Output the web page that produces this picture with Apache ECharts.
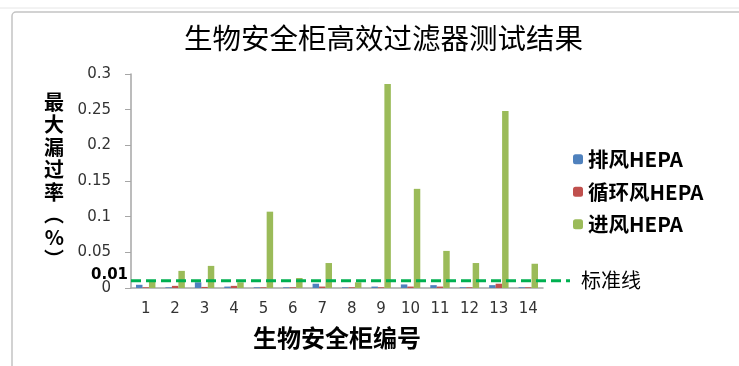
<!DOCTYPE html>
<html>
<head>
<meta charset="utf-8">
<script src="https://cdn.jsdelivr.net/npm/echarts@6/dist/echarts.min.js"></script>
<style>
  html, body { margin: 0; padding: 0; background: #fff; }
  #chart { width: 739px; height: 366px; }
</style>
</head>
<body>
<div id="chart"></div>
<script>
const cabinets = ['1', '2', '3', '4', '5', '6', '7', '8', '9', '10', '11', '12', '13', '14'];
const exhaustHepa = [0.0045, 0.001, 0.008, 0.002, 0.001, 0.001, 0.006, 0.001, 0.002, 0.005, 0.004, 0.001, 0.004, 0.001];
const recircHepa = [0.001, 0.003, 0.0015, 0.003, 0.001, 0.001, 0.002, 0.001, 0.001, 0.002, 0.002, 0.001, 0.006, 0.001];
const intakeHepa = [0.009, 0.024, 0.031, 0.008, 0.107, 0.014, 0.035, 0.008, 0.286, 0.139, 0.052, 0.035, 0.248, 0.034];
const standardLimit = 0.01;

const font = 'DejaVu Sans';
const cjk = '"Noto Sans CJK SC", sans-serif';

var dom = document.getElementById('chart');
var myChart = echarts.init(dom, null, { renderer: 'canvas' });

var option = {
  animation: false,
  backgroundColor: '#fff',
  title: {
    text: '生物安全柜高效过滤器测试结果',
    left: 179,
    top: 19,
    textStyle: { fontFamily: cjk, fontSize: 28.5, fontWeight: 'normal', color: '#000' }
  },
  graphic: [
    {
      type: 'rect',
      shape: { x: 12, y: 12, width: 740, height: 370, r: 4 },
      style: { fill: 'none', stroke: '#c4c4c4', lineWidth: 1.5 },
      z: -1
    },
    {
      type: 'line',
      shape: { x1: 0, y1: 8, x2: 739, y2: 8 },
      style: { stroke: '#e6e6e6', lineWidth: 1 },
      z: -1
    }
  ],
  legend: {
    orient: 'vertical',
    left: 568,
    top: 144,
    itemWidth: 10,
    itemHeight: 10,
    itemGap: 12,
    data: ['排风HEPA', '循环风HEPA', '进风HEPA'],
    textStyle: { fontFamily: cjk, fontSize: 20.5, fontWeight: 'bold', color: '#000', lineHeight: 20 }
  },
  grid: [
    { left: 131, right: 196, top: 74, bottom: 78 },
    { left: 131, right: 169, top: 74, bottom: 78 }
  ],
  xAxis: [
    {
      type: 'category',
      gridIndex: 0,
      data: cabinets,
      name: '生物安全柜编号',
      nameLocation: 'middle',
      nameGap: 38,
      nameTextStyle: { fontFamily: cjk, fontSize: 24, fontWeight: 'bold', color: '#000' },
      axisLine: { lineStyle: { color: '#a6a6a6', width: 1.5 } },
      axisTick: { alignWithLabel: false, length: 6, lineStyle: { color: '#a6a6a6' } },
      axisLabel: { fontFamily: font, fontSize: 15, color: '#333', margin: 14 }
    },
    {
      type: 'value',
      gridIndex: 1,
      min: 0,
      max: 1,
      show: false
    }
  ],
  yAxis: [
    {
      type: 'value',
      gridIndex: 0,
      min: 0,
      max: 0.3,
      interval: 0.05,
      name: '最\n大\n漏\n过\n率\n︵\n%\n︶',
      nameLocation: 'middle',
      nameRotate: 0,
      nameGap: 67,
      nameTextStyle: { fontFamily: cjk, fontSize: 20, fontWeight: 'bold', color: '#000', lineHeight: 22.5 },
      axisLine: { show: true, lineStyle: { color: '#a6a6a6', width: 1.5 } },
      axisTick: { show: true, length: 6, lineStyle: { color: '#a6a6a6' } },
      splitLine: { show: false },
      axisLabel: { fontFamily: font, fontSize: 15, color: '#333', margin: 20 }
    },
    {
      type: 'value',
      gridIndex: 1,
      min: 0,
      max: 0.3,
      show: false
    }
  ],
  series: [
    {
      name: '排风HEPA',
      type: 'bar',
      data: exhaustHepa,
      barGap: '0%',
      barCategoryGap: '34%',
      itemStyle: { color: '#4F81BD' }
    },
    {
      name: '循环风HEPA',
      type: 'bar',
      data: recircHepa,
      itemStyle: { color: '#C0504D' }
    },
    {
      name: '进风HEPA',
      type: 'bar',
      data: intakeHepa,
      itemStyle: { color: '#9BBB59' }
    },
    {
      name: '标准线',
      type: 'line',
      xAxisIndex: 1,
      yAxisIndex: 1,
      symbol: 'circle',
      symbolSize: 0,
      z: 5,
      data: [
        {
          value: [0, standardLimit],
          label: {
            show: true,
            position: 'left',
            distance: 3,
            offset: [0, -6],
            formatter: '0.01',
            fontFamily: font,
            fontSize: 15,
            fontWeight: 'bold',
            color: '#000'
          }
        },
        [1, standardLimit]
      ],
      lineStyle: { color: '#00B050', width: 3, type: [10, 5] },
      endLabel: {
        show: true,
        formatter: '标准线',
        distance: 11,
        fontFamily: cjk,
        fontSize: 20,
        color: '#000'
      }
    }
  ]
};

myChart.setOption(option);
window.addEventListener('resize', myChart.resize);
</script>
</body>
</html>
